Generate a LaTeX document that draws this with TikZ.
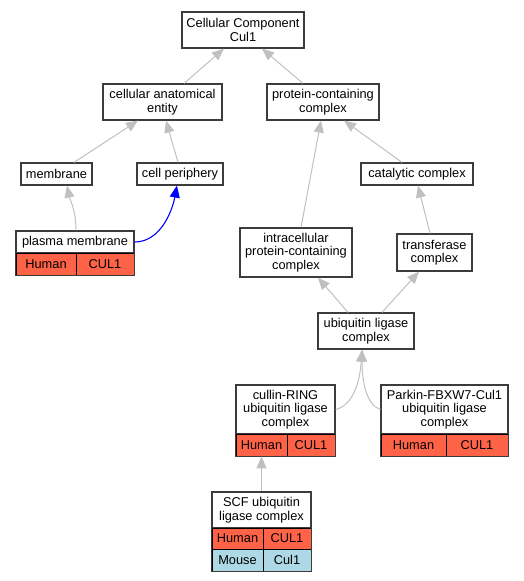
\documentclass[tikz,border=0pt]{standalone}
\usepackage{fontspec}
\setmainfont{Liberation Sans}
\usetikzlibrary{arrows.meta,calc}
\definecolor{edgegray}{HTML}{C0C0C0}
\definecolor{tomatoc}{HTML}{FF6347}
\definecolor{lblue}{HTML}{ADD8E6}
\definecolor{boxline}{HTML}{3C3C3C}
\begin{document}
\begin{tikzpicture}[x=1pt,y=-1pt,
  txt/.style={font=\fontsize{12.8}{13.4}\selectfont},
  lbl/.style={txt, draw=boxline, line width=1.2pt, fill=white, inner sep=0pt, align=center},
  cell/.style={txt, draw=black, line width=0.9pt, inner sep=0pt},
  hum/.style={cell, fill=tomatoc},
  mou/.style={cell, fill=lblue},
  outer/.style={draw=boxline, line width=1.2pt},
  isa/.style={draw=edgegray, line width=1pt, -{Triangle[length=12pt,width=10pt]}},
  bluearrow/.style={draw=blue, line width=1.1pt, -{Triangle[length=12pt,width=10pt]}}
]
\useasboundingbox (0,0) rectangle (524,581);

% plain nodes
\node[lbl, minimum width=122pt, minimum height=36pt] (cc) at (243,30) {Cellular Component\\Cul1};
\node[lbl, minimum width=119pt, minimum height=36pt] (cae) at (162.5,102) {cellular anatomical\\entity};
\node[lbl, minimum width=112pt, minimum height=36pt] (pcc) at (323,102) {protein-containing\\complex};
\node[lbl, minimum width=71pt, minimum height=22pt] (mem) at (56.5,174) {membrane};
\node[lbl, minimum width=86pt, minimum height=22pt] (cp) at (180,174) {cell periphery};
\node[lbl, minimum width=112pt, minimum height=22pt] (cat) at (417,174) {catalytic complex};
\node[lbl, minimum width=112pt, minimum height=49pt] (ipc) at (296,252.5) {intracellular\\protein-containing\\complex};
\node[lbl, minimum width=75pt, minimum height=37pt] (tr) at (434.5,252.5) {transferase\\complex};
\node[lbl, minimum width=96pt, minimum height=36pt] (ulc) at (366,331) {ubiquitin ligase\\complex};

% plasma membrane table
\node[lbl, minimum width=118pt, minimum height=22pt] (pm) at (75,242) {plasma membrane};
\node[hum, minimum width=60pt, minimum height=22pt] (pmh) at (46,264) {Human};
\node[hum, minimum width=58pt, minimum height=22pt] (pmg) at (105,264) {CUL1};
\draw[outer] (pm.north west) rectangle (pmg.south east);

% cullin-RING table
\node[lbl, minimum width=99pt, minimum height=49pt] (crl) at (285.5,409.5) {cullin-RING\\ubiquitin ligase\\complex};
\node[hum, minimum width=51pt, minimum height=22pt] (crlh) at (261.5,445) {Human};
\node[hum, minimum width=48pt, minimum height=22pt] (crlg) at (311,445) {CUL1};
\draw[outer] (crl.north west) rectangle (crlg.south east);

% Parkin table
\node[lbl, minimum width=127pt, minimum height=49pt] (pk) at (444.5,409.5) {Parkin-FBXW7-Cul1\\ubiquitin ligase\\complex};
\node[hum, minimum width=65pt, minimum height=22pt] (pkh) at (413.5,445) {Human};
\node[hum, minimum width=62pt, minimum height=22pt] (pkg) at (477,445) {CUL1};
\draw[outer] (pk.north west) rectangle (pkg.south east);

% SCF table
\node[lbl, minimum width=99pt, minimum height=36pt] (scf) at (261.5,510) {SCF ubiquitin\\ligase complex};
\node[hum, minimum width=51pt, minimum height=21pt] (scfh) at (237.5,538.5) {Human};
\node[hum, minimum width=48pt, minimum height=21pt] (scfg) at (287,538.5) {CUL1};
\node[mou, minimum width=51pt, minimum height=22pt] (scfm) at (237.5,560) {Mouse};
\node[mou, minimum width=48pt, minimum height=22pt] (scfmg) at (287,560) {Cul1};
\draw[outer] (scf.north west) rectangle (scfmg.south east);

% edges
\draw[isa] ([xshift=21.5pt]cae.north) -- ([xshift=-19pt]cc.south);
\draw[isa] ([xshift=-20pt]pcc.north) -- ([xshift=19pt]cc.south);
\draw[isa] ([xshift=17.5pt]mem.north) -- ([xshift=-24.5pt]cae.south);
\draw[isa] ([xshift=-2pt]cp.north) -- ([xshift=3.5pt]cae.south);
\draw[isa] ([xshift=-15pt]cat.north) -- ([xshift=21pt]pcc.south);
\draw[isa] ([xshift=5pt]ipc.north) -- ([xshift=-2pt]pcc.south);
\draw[isa] ([xshift=-4.5pt]tr.north) -- ([xshift=1pt]cat.south);
\draw[isa] ([xshift=1pt]pm.north) .. controls (76,210) and (70,200) .. ([xshift=10.5pt]mem.south);
\draw[bluearrow] (pm.east) .. controls (160,242) and (172,212) .. ([xshift=-3pt]cp.south);
\draw[isa] ([xshift=-18pt]ulc.north) -- ([xshift=22pt]ipc.south);
\draw[isa] ([xshift=16pt]ulc.north) -- ([xshift=-15.5pt]tr.south);
\draw[isa] (crl.east) .. controls (354,405) and (360,380) .. ([xshift=-4pt]ulc.south);
\draw[isa] (pk.west) .. controls (366,405) and (362,380) .. ([xshift=-4pt]ulc.south);
\draw[isa] (scf.north) -- (crlh.south);
\end{tikzpicture}
\end{document}
